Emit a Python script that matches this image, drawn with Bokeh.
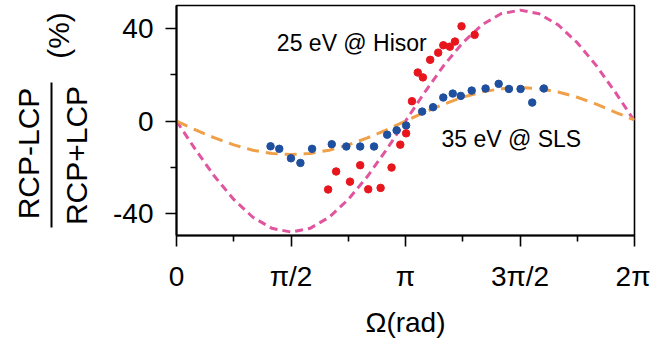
import numpy as np
from bokeh.plotting import figure
from bokeh.layouts import row
from bokeh.models import Range1d, FixedTicker, CustomJSTickFormatter, Label
from bokeh.core.properties import value
from bokeh.embed import file_html
from bokeh.resources import INLINE

# ---- data ----
# 35 eV @ SLS (blue)
sls_omega = [1.29, 1.41, 1.57, 1.70, 1.86, 2.13, 2.33, 2.52, 2.71, 2.89, 3.02, 3.15,
             3.37, 3.52, 3.66, 3.79, 3.90, 4.05, 4.24, 4.42, 4.56, 4.72, 4.88, 5.04]
sls_value = [-10.9, -12.0, -16.1, -18.1, -12.0, -10.0, -11.0, -11.0, -11.0, -5.9, -4.0, -1.9,
             4.1, 6.0, 10.2, 11.9, 10.9, 13.2, 14.1, 16.1, 13.9, 13.9, 8.0, 14.1]
# 25 eV @ Hisor (red)
hisor_omega = [2.08, 2.19, 2.38, 2.52, 2.63, 2.80, 2.95, 3.07, 3.15, 3.23,
               3.31, 3.38, 3.48, 3.59, 3.66, 3.75, 3.82, 3.91, 4.09]
hisor_value = [-29.6, -21.8, -26.2, -19.1, -29.5, -28.9, -20.1, -10.2, -5.3, 8.6,
               21.0, 18.9, 26.5, 29.6, 32.8, 32.2, 34.4, 41.0, 37.3]
# dashed model curves, sampled every pi/12 from 0 to 2pi
curve_omega_step_pi = 1.0 / 12
hisor_curve = [0, -12.4, -24.0, -33.9, -41.6, -46.4, -48.0, -46.4, -41.6, -33.9, -24.0, -12.4, 0,
               12.4, 24.0, 33.9, 41.6, 46.4, 48.0, 46.4, 41.6, 33.9, 24.0, 12.4, 0]
sls_curve = [0, -3.8, -7.3, -10.3, -12.6, -14.0, -14.5, -14.0, -12.6, -10.3, -7.3, -3.8, 0,
             3.8, 7.3, 10.3, 12.6, 14.0, 14.5, 14.0, 12.6, 10.3, 7.3, 3.8, 0.5]
x_tick_labels = ["0", "π/2", "π", "3π/2", "2π"]
y_ticks = [-40, 0, 40]
y_minor = [-20, 20]
y_label_parts = ["RCP-LCP", "RCP+LCP", "(%)"]

curve_omega = [i * curve_omega_step_pi * np.pi for i in range(len(hisor_curve))]

FONT = "Liberation Sans"
BLUE = "#1f4f9f"
RED = "#e8151d"
PINK = "#e0559e"
ORANGE = "#f0a048"
LEFT_W = 110
TOP, BOTTOM = 5, 106   # frame borders shared by both panels
H = 341

# ---- left strip holding the fraction-style y-axis label (pixel coordinates) ----
lab = figure(width=LEFT_W, height=H, output_backend="svg", toolbar_location=None,
             x_axis_location=None, y_axis_location=None,
             x_range=Range1d(0, LEFT_W), y_range=Range1d(H - BOTTOM, TOP),
             min_border_left=0, min_border_right=0, min_border_top=TOP,
             min_border_bottom=BOTTOM)
lab.xgrid.visible = False
lab.ygrid.visible = False
lab.outline_line_color = None
lab.background_fill_color = "white"
lab.border_fill_color = "white"
lab.text(x=[28, 76, 58], y=[153, 155, 35], text=y_label_parts, angle=np.pi / 2,
         text_font=value(FONT), text_font_size="30px", text_color="black",
         text_align="center", text_baseline="middle")
lab.segment(x0=[51], y0=[82], x1=[51], y1=[227], line_color="black", line_width=2)

# ---- main plot ----
p = figure(width=650 - LEFT_W, height=H, output_backend="svg", toolbar_location=None,
           x_range=Range1d(0, 2 * np.pi), y_range=Range1d(-49.5, 50),
           min_border_left=174 - LEFT_W, min_border_right=16, min_border_top=TOP,
           min_border_bottom=BOTTOM)
p.background_fill_color = "white"
p.border_fill_color = "white"
p.outline_line_color = "black"
p.outline_line_width = 1.6
p.xgrid.visible = False
p.ygrid.visible = False

p.line(curve_omega, hisor_curve, line_color=PINK, line_width=3, line_dash="8 5")
p.line(curve_omega, sls_curve, line_color=ORANGE, line_width=3, line_dash="12 7")

p.scatter(sls_omega, sls_value, size=7.5, fill_color=BLUE, line_color=BLUE)
p.scatter(hisor_omega, hisor_value, size=7.5, fill_color=RED, line_color=RED)

xt = [i * np.pi / 2 for i in range(5)]
xm = [np.pi / 4 * k for k in (1, 3, 5, 7)]
p.xaxis.ticker = FixedTicker(ticks=xt, minor_ticks=xm)
p.xaxis.formatter = CustomJSTickFormatter(args=dict(labs=x_tick_labels),
                                          code="return labs[Math.round(tick / (Math.PI/2))];")
p.yaxis.ticker = FixedTicker(ticks=y_ticks, minor_ticks=y_minor)
p.yaxis.formatter = CustomJSTickFormatter(code="return String(Math.round(tick));")

for ax in (p.xaxis[0], p.yaxis[0]):
    ax.axis_line_width = 2
    ax.axis_line_color = "black"
    ax.major_tick_line_width = 1.6
    ax.minor_tick_line_width = 1.6
    ax.major_tick_out = 11
    ax.major_tick_in = 0
    ax.minor_tick_out = 6
    ax.minor_tick_in = 0
    ax.major_label_text_font = FONT
    ax.major_label_text_font_size = "28px"
    ax.major_label_text_color = "black"

p.yaxis.major_label_standoff = 12
p.xaxis.major_label_standoff = 14
p.xaxis.axis_label = "Ω(rad)"
p.xaxis.axis_label_text_font = FONT
p.xaxis.axis_label_text_font_size = "28px"
p.xaxis.axis_label_text_font_style = "normal"
p.xaxis.axis_label_text_color = "black"
p.xaxis.axis_label_standoff = 12

# annotations
p.add_layout(Label(x=1.377, y=33.9, text="25 eV @ Hisor", text_font=FONT, text_font_size="23px",
                   text_color="black", text_baseline="alphabetic", text_align="left"))
p.add_layout(Label(x=3.635, y=-7.7, text="35 eV @ SLS", text_font=FONT, text_font_size="23px",
                   text_color="black", text_baseline="alphabetic", text_align="left"))

layout = row(lab, p, spacing=0)
open("out.html", "w").write(file_html(layout, INLINE))
